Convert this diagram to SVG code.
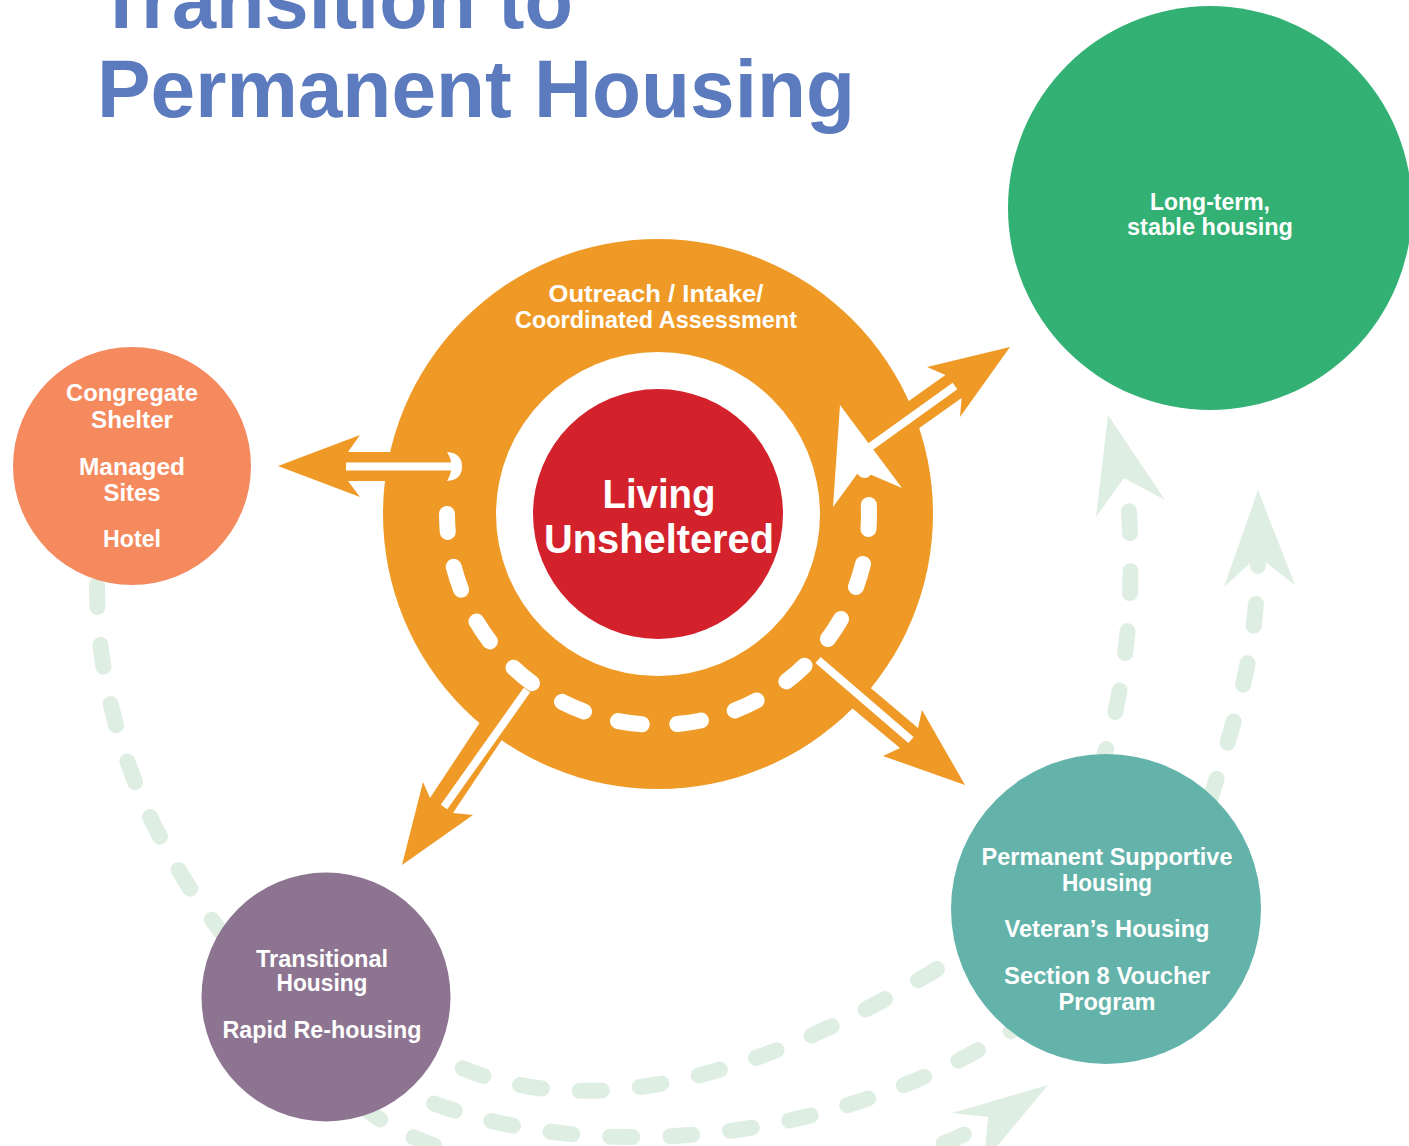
<svg xmlns="http://www.w3.org/2000/svg" width="1409" height="1146" viewBox="0 0 1409 1146">
<defs>
<style>
.title{font-family:"Liberation Sans",Arial,sans-serif;font-weight:bold;fill:#5b7bbe;font-size:81px}
.lbl{font-family:"Liberation Sans",Arial,sans-serif;font-weight:bold;fill:#ffffff;font-size:23px;text-anchor:middle}
.big{font-family:"Liberation Sans",Arial,sans-serif;font-weight:bold;fill:#ffffff;font-size:41px;text-anchor:middle}
.gdash{fill:none;stroke:#dfeee2;stroke-width:16;stroke-linecap:round;stroke-dasharray:22 38}
.ghead{fill:#dfeee2}
.oarrow{fill:#ef9a26}
.wline{stroke:#ffffff;stroke-width:8;fill:none}
.wring{fill:none;stroke:#ffffff;stroke-width:16;stroke-linecap:round;stroke-dasharray:24 35.4;stroke-dashoffset:6}
</style>
</defs>
<rect width="1409" height="1146" fill="#ffffff"/>
<g id="title">
<text class="title" x="97" y="28" textLength="476" lengthAdjust="spacingAndGlyphs">Transition to</text>
<text class="title" x="97" y="117" textLength="758" lengthAdjust="spacingAndGlyphs">Permanent Housing</text>
</g>
<g id="node-outreach">
<circle cx="658" cy="514" r="275" fill="#ef9a26"/>
<text class="lbl" x="656" y="302" textLength="215" lengthAdjust="spacingAndGlyphs">Outreach / Intake/</text>
<text class="lbl" x="656" y="328" textLength="282" lengthAdjust="spacingAndGlyphs">Coordinated Assessment</text>
</g>
<g id="node-unsheltered">
<circle cx="658" cy="514" r="162" fill="#ffffff"/>
<circle cx="658" cy="514" r="125" fill="#d3222b"/>
<text class="big" x="659" y="508" textLength="113" lengthAdjust="spacingAndGlyphs">Living</text>
<text class="big" x="659" y="553" textLength="230" lengthAdjust="spacingAndGlyphs">Unsheltered</text>
</g>
<g id="connectors">
<path class="gdash" d="M97,585 C97,720 150,850 240,955 C290,1015 330,1085 378,1118 C500,1200 850,1210 990,1120"/>
<path class="ghead" d="M1048,1085 L952,1113 L988,1117 L984,1162 Z"/>
<path class="gdash" d="M410,1040 C520,1115 700,1125 975,945"/>
<path class="gdash" d="M380,1078 C520,1160 800,1170 1025,1022"/>
<path class="gdash" d="M1100,770 C1125,690 1137,600 1127,485"/>
<path class="ghead" d="M1108,415 L1165,500 L1124,478 L1096,517 Z"/>
<path class="gdash" d="M1210,800 C1235,720 1258,650 1258,556"/>
<path class="ghead" d="M1258,490 L1295,585 L1258,556 L1224,587 Z"/>
<path class="oarrow" d="M278,466 L360,435 L348,452 L400,452 L400,481 L348,481 L360,497 Z"/>
<path class="oarrow" d="M841.9,448.6 L945.4,375.1 L927,367 L1010,347 L960,417 L961.6,397.9 L858.1,471.4 Z"/>
<path class="oarrow" d="M814.6,640.5 L918,728 L922,710 L965,785 L883,756 L900,748 L796.6,661.9 Z"/>
<path class="oarrow" d="M504.5,685.3 L430,798 L423,782 L402,865 L473,815 L453,813 L527.9,700.7 Z"/>
<path class="wring" d="M447,514 A211,211 0 1 0 863.6,466.5"/>
<path fill="#ffffff" d="M840,405 L902,488 L860,470 L833,507 Z"/>
<line class="wline" x1="346" y1="466.5" x2="452" y2="466.5" stroke-width="7"/>
<path fill="#ffffff" d="M447,452 Q462,453 462,466.5 Q462,480 447,481 Q456,466.5 447,452 Z"/>
<line class="wline" x1="870" y1="447" x2="955" y2="386"/>
<line class="wline" x1="818" y1="660" x2="911" y2="740"/>
<line class="wline" x1="527" y1="690" x2="444" y2="807"/>
</g>
<g id="node-shelter">
<circle cx="132" cy="466" r="119" fill="#f58a5e"/>
<text class="lbl" x="132" y="401" textLength="132" lengthAdjust="spacingAndGlyphs">Congregate</text>
<text class="lbl" x="132" y="428" textLength="82" lengthAdjust="spacingAndGlyphs">Shelter</text>
<text class="lbl" x="132" y="475" textLength="106" lengthAdjust="spacingAndGlyphs">Managed</text>
<text class="lbl" x="132" y="501" textLength="57" lengthAdjust="spacingAndGlyphs">Sites</text>
<text class="lbl" x="132" y="547" textLength="58" lengthAdjust="spacingAndGlyphs">Hotel</text>
</g>
<g id="node-transitional">
<circle cx="326" cy="997" r="124.5" fill="#8d7491"/>
<text class="lbl" x="322" y="967" textLength="132" lengthAdjust="spacingAndGlyphs">Transitional</text>
<text class="lbl" x="322" y="991" textLength="91" lengthAdjust="spacingAndGlyphs">Housing</text>
<text class="lbl" x="322" y="1038" textLength="199" lengthAdjust="spacingAndGlyphs">Rapid Re-housing</text>
</g>
<g id="node-permanent">
<circle cx="1106" cy="909" r="155" fill="#63b3aa"/>
<text class="lbl" x="1107" y="865" textLength="251" lengthAdjust="spacingAndGlyphs">Permanent Supportive</text>
<text class="lbl" x="1107" y="891" textLength="90" lengthAdjust="spacingAndGlyphs">Housing</text>
<text class="lbl" x="1107" y="937" textLength="205" lengthAdjust="spacingAndGlyphs">Veteran’s Housing</text>
<text class="lbl" x="1107" y="984" textLength="206" lengthAdjust="spacingAndGlyphs">Section 8 Voucher</text>
<text class="lbl" x="1107" y="1010" textLength="97" lengthAdjust="spacingAndGlyphs">Program</text>
</g>
<g id="node-stable">
<circle cx="1210" cy="208" r="202" fill="#33b174"/>
<text class="lbl" x="1210" y="210" textLength="120" lengthAdjust="spacingAndGlyphs">Long-term,</text>
<text class="lbl" x="1210" y="235" textLength="166" lengthAdjust="spacingAndGlyphs">stable housing</text>
</g>
</svg>
